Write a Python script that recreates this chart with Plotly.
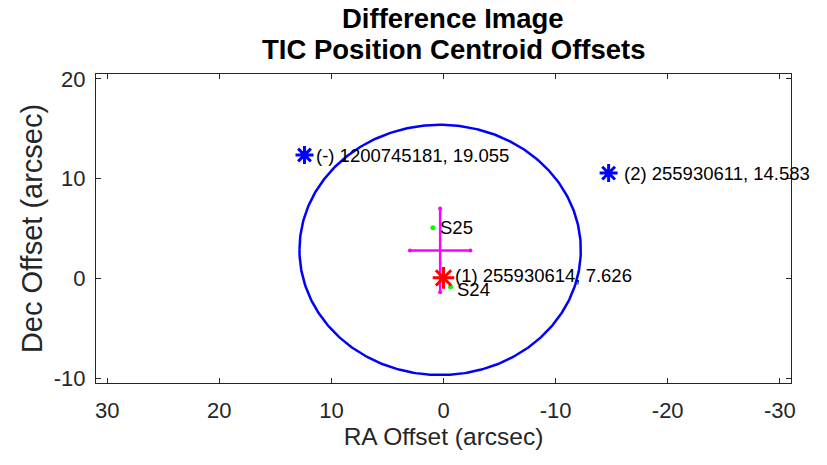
import numpy as np
import plotly.graph_objects as go

# Circle (centre and radius, arcsec)
circle_center = [0.3, 2.85]
circle_radius = 12.55

# Centroid with error bars
cent_x = [0.3]
cent_y = [2.8]
cent_xerr = [2.7]
cent_yerr = [4.2]

# Sector centroids (green)
sec_x = [0.95, -0.63]
sec_y = [5.07, -0.84]
sec_labels = ["S25", "S24"]

# TIC stars
tic_blue_x = [12.4, -14.73]
tic_blue_y = [12.37, 10.56]
tic_blue_labels = ["(-) 1200745181, 19.055", "(2) 255930611, 14.583"]
tic_red_x = [0.0]
tic_red_y = [0.05]
tic_red_labels = ["(1) 255930614, 7.626"]

x_ticks = [30, 20, 10, 0, -10, -20, -30]
x_tick_labels = ["30", "20", "10", "0", "-10", "-20", "-30"]
y_ticks = [-10, 0, 10, 20]
y_tick_labels = ["-10", "0", "10", "20"]

FONT = "Liberation Sans, Arial, sans-serif"

fig = go.Figure()

t = np.linspace(0, 2 * np.pi, 361)
fig.add_trace(go.Scatter(
    x=circle_center[0] + circle_radius * np.cos(t),
    y=circle_center[1] + circle_radius * np.sin(t),
    mode="lines", line=dict(color="#0000ff", width=2.5), hoverinfo="skip"))

# error cross
cx, cy, ex, ey = cent_x[0], cent_y[0], cent_xerr[0], cent_yerr[0]
fig.add_trace(go.Scatter(
    x=[cx - ex, cx + ex, None, cx, cx],
    y=[cy, cy, None, cy - ey, cy + ey],
    mode="lines+markers", line=dict(color="#ff00ff", width=2.5),
    marker=dict(color="#ff00ff", size=4)))

fig.add_trace(go.Scatter(
    x=sec_x, y=sec_y, mode="markers",
    marker=dict(color="#00ff00", size=5)))

fig.add_trace(go.Scatter(
    x=tic_blue_x, y=tic_blue_y, mode="markers",
    marker=dict(symbol="asterisk-open", size=15, color="#0000ff",
                line=dict(color="#0000ff", width=3))))
fig.add_trace(go.Scatter(
    x=tic_red_x, y=tic_red_y, mode="markers",
    marker=dict(symbol="asterisk-open", size=18, color="#ff0000",
                line=dict(color="#ff0000", width=3))))

def label(x, y, text, dx, dy):
    fig.add_annotation(x=x, y=y, text=text, showarrow=False, xanchor="left",
                       yanchor="middle", xshift=dx, yshift=dy,
                       font=dict(family=FONT, size=18.5, color="black"))

blue_shift = [(9, 0), (13, 0)]
for x, y, lab, (dx, dy) in zip(tic_blue_x, tic_blue_y, tic_blue_labels, blue_shift):
    label(x, y, lab, dx, dy)
for x, y, lab in zip(tic_red_x, tic_red_y, tic_red_labels):
    label(x, y, lab, 9, 2)
sec_shift = [(5, 0), (4, -3)]
for x, y, lab, (dx, dy) in zip(sec_x, sec_y, sec_labels, sec_shift):
    label(x, y, lab, dx, dy)

# title (two centred lines)
title_lines = ["Difference Image", "TIC Position Centroid Offsets"]
for txt, yy in zip(title_lines, [1.181, 1.078]):
    fig.add_annotation(xref="paper", yref="paper", x=0.514, y=yy, text="<b>" + txt + "</b>",
                       showarrow=False, xanchor="center", yanchor="middle",
                       font=dict(family=FONT, size=27.5, color="black"))

axis_common = dict(
    showgrid=False, zeroline=False, showline=True, linecolor="#262626",
    linewidth=1, mirror="allticks", ticks="inside", ticklen=5,
    tickcolor="#262626", tickfont=dict(family=FONT, size=22, color="#262626"),
    automargin=False,
)
fig.update_xaxes(range=[31.0, -31.0], tickvals=x_ticks, ticktext=x_tick_labels,
                 ticklabelstandoff=8,
                 title=dict(text="RA Offset (arcsec)", font=dict(family=FONT, size=24.5, color="#262626"), standoff=5),
                 **axis_common)
fig.update_yaxes(range=[-10.5, 20.5], tickvals=y_ticks, ticktext=y_tick_labels,
                 ticklabelstandoff=5,
                 title=dict(text="Dec Offset (arcsec)", font=dict(family=FONT, size=29, color="#262626"), standoff=2),
                 **axis_common)

fig.update_layout(
    width=827, height=465, showlegend=False,
    plot_bgcolor="white", paper_bgcolor="white",
    margin=dict(l=96, r=36, t=74, b=82),
)

fig.write_html("out.html", config={"displayModeBar": False},
               post_script="document.body.style.margin='0';")
